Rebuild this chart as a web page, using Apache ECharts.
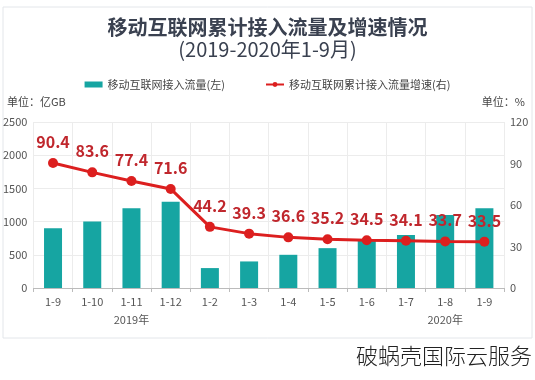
<!DOCTYPE html>
<html><head><meta charset="utf-8">
<script src="https://cdn.jsdelivr.net/npm/echarts@6/dist/echarts.min.js"></script>
<style>html,body{margin:0;padding:0;background:#fff}#c{width:535px;height:380px}</style>
</head><body><div id="c"></div>
<script>
const categories = ['1-9','1-10','1-11','1-12','1-2','1-3','1-4','1-5','1-6','1-7','1-8','1-9'];
const yearLabels = ['','','2019年','','','','','','','','2020年',''];
const trafficValues = [900,1000,1200,1300,300,400,500,600,720,800,1100,1200];
const growthValues = [90.4,83.6,77.4,71.6,44.2,39.3,36.6,35.2,34.5,34.1,33.7,33.5];
const leftTicks = {min:0,max:2500,interval:500};
const rightTicks = {min:0,max:120,interval:30};

const font = '"Noto Sans CJK SC","Noto Sans",sans-serif';
const chart = echarts.init(document.getElementById('c'));
chart.setOption({
  animation:false,
  textStyle:{fontFamily:font},
  graphic:[
    {type:'rect',shape:{x:3,y:7,width:529,height:331},style:{fill:'#fff',stroke:'#e3e6ea',lineWidth:1},z:-10},
    {type:'text',left:'center',top:17,style:{text:'移动互联网累计接入流量及增速情况',font:'bold 20px '+font,fill:'#3a4150'}},
    {type:'text',left:'center',top:39,style:{text:'(2019-2020年1-9月)',font:'20px '+font,fill:'#3a4150'}},
    {type:'text',left:7,top:96,style:{text:'单位：亿GB',font:'11px '+font,fill:'#444'}},
    {type:'text',right:10,top:96,style:{text:'单位：%',font:'11px '+font,fill:'#444'}},
    {type:'text',right:3,top:345,style:{text:'破蜗壳国际云服务',font:'300 22px '+font,fill:'#222'}}
  ],
  legend:{
    top:74,left:'center',itemGap:40,
    textStyle:{fontSize:11,color:'#444',fontFamily:font},
    data:[
      {name:'移动互联网接入流量(左)',icon:'rect',itemStyle:{color:'#16a5a2'}},
      {name:'移动互联网累计接入流量增速(右)'}
    ],
    itemWidth:18,itemHeight:6
  },
  grid:{left:33,right:31,top:122,bottom:92},
  xAxis:[
    {type:'category',data:categories,position:'bottom',
     axisLine:{lineStyle:{color:'#bbb'}},axisTick:{show:true,length:4,lineStyle:{color:'#bbb'}},
     axisLabel:{color:'#555',fontSize:11,margin:8,interval:0},
     splitLine:{show:true,lineStyle:{color:'#ececec'}}},
    {type:'category',data:yearLabels,position:'bottom',offset:18,
     axisLine:{show:false},axisTick:{show:false},
     axisLabel:{color:'#555',fontSize:11,interval:0,margin:8}}
  ],
  yAxis:[
    {type:'value',min:leftTicks.min,max:leftTicks.max,interval:leftTicks.interval,
     axisLabel:{color:'#555',fontSize:11,margin:6,formatter:v=>String(v)},axisLine:{show:false},axisTick:{show:false},
     splitLine:{lineStyle:{color:'#ececec'}}},
    {type:'value',min:rightTicks.min,max:rightTicks.max,interval:rightTicks.interval,
     axisLabel:{color:'#555',fontSize:11,margin:6,formatter:v=>String(v)},axisLine:{show:false},axisTick:{show:false},
     splitLine:{show:false}}
  ],
  series:[
    {name:'移动互联网接入流量(左)',type:'bar',data:trafficValues,barWidth:18,
     itemStyle:{color:'#16a5a2'}},
    {name:'移动互联网累计接入流量增速(右)',type:'line',yAxisIndex:1,data:growthValues,
     symbol:'circle',symbolSize:10,lineStyle:{width:3,color:'#dc1f1f'},itemStyle:{color:'#dc1f1f'},
     label:{show:true,position:'top',distance:8,color:'#c0272d',fontSize:16,fontWeight:'bold',fontFamily:font}}
  ]
});
</script></body></html>
